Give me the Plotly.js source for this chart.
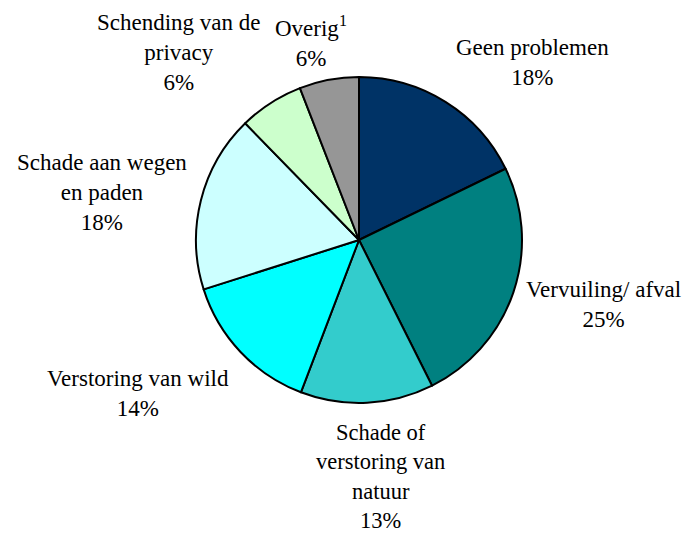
<!DOCTYPE html>
<html>
<head>
<meta charset="utf-8">
<script src="https://cdn.plot.ly/plotly-3.0.1.min.js"></script>
<style>html,body{margin:0;padding:0;background:#fff;}#chart{width:687px;height:534px;}</style>
</head>
<body>
<div id="chart"></div>
<script>
// Categories (clockwise from 12 o'clock)
const categories = [
  "Geen problemen",
  "Vervuiling/ afval",
  "Schade of verstoring van natuur",
  "Verstoring van wild",
  "Schade aan wegen en paden",
  "Schending van de privacy",
  "Overig"
];
// Label text as displayed (with line breaks)
const labelLines = [
  "Geen problemen",
  "Vervuiling/ afval",
  "Schade of<br>verstoring van<br>natuur",
  "Verstoring van wild",
  "Schade aan wegen<br>en paden",
  "Schending van de<br>privacy",
  "Overig<sup>1</sup>"
];
// Shares (percent)
const shares = [17.8, 24.8, 13.2, 14.3, 17.6, 6.4, 5.9];
// Percentages shown in the labels
const shownPct = [18, 25, 13, 14, 18, 6, 6];
const colors = ["#003366", "#008080", "#33CCCC", "#00FFFF", "#CCFFFF", "#CCFFCC", "#969696"];

// Label block centres in pixels
const labelPos = [
  [532, 63], [603, 304], [380, 476], [138, 393], [102, 192], [179, 52], [311, 42]
];

const W = 687, H = 534;
const cx = 359, cy = 240, r = 163;

const annotations = labelLines.map((t, i) => ({
  text: t + "<br>" + shownPct[i] + "%",
  x: labelPos[i][0] / W,
  y: 1 - labelPos[i][1] / H,
  xref: "paper", yref: "paper",
  xanchor: "center", yanchor: "middle",
  showarrow: false,
  align: "center",
  font: {family: "Liberation Serif, Times New Roman, serif", size: i === 2 ? 22.5 : 23, color: "#000"}
}));

const trace = {
  type: "pie",
  labels: categories,
  values: shares,
  sort: false,
  direction: "clockwise",
  rotation: 0,
  textinfo: "none",
  hoverinfo: "label+percent",
  marker: {colors: colors, line: {color: "#000", width: 2}},
  domain: {
    x: [(cx - r) / W, (cx + r) / W],
    y: [1 - (cy + r) / H, 1 - (cy - r) / H]
  },
  showlegend: false
};

Plotly.newPlot("chart", [trace], {
  width: W, height: H,
  margin: {l: 0, r: 0, t: 0, b: 0},
  paper_bgcolor: "#fff",
  showlegend: false,
  annotations: annotations
}, {displayModeBar: false, staticPlot: true});
</script>
</body>
</html>
